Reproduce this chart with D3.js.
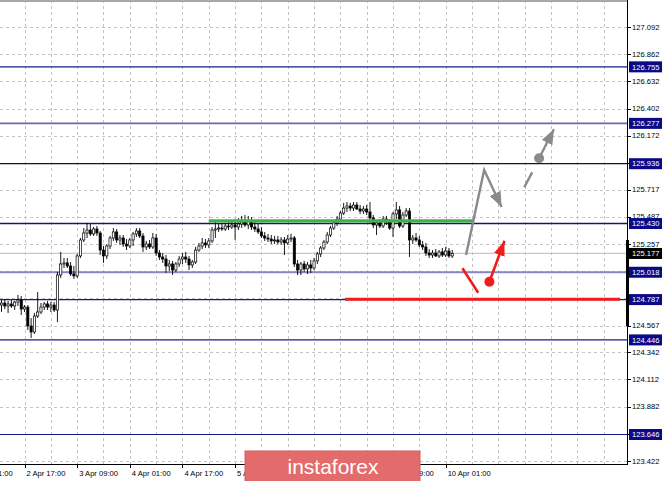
<!DOCTYPE html>
<html>
<head>
<meta charset="utf-8">
<script src="https://cdn.jsdelivr.net/npm/d3@7"></script>
<style>
  html, body { margin: 0; padding: 0; background: #ffffff; overflow: hidden; }
  svg { display: block; }
  text { font-family: "Liberation Sans", Arial, sans-serif; }
</style>
</head>
<body>
<svg id="chart" width="665" height="481"></svg>
<script>
// ---------- DATA ----------
// H1 candles [open, high, low, close], 2 Apr 10:00 .. 10 Apr 03:00
const candles = [
  [124.741,124.783,124.682,124.758],[124.758,124.792,124.707,124.733],[124.733,124.775,124.673,124.750],
  [124.750,124.783,124.716,124.733],[124.733,124.775,124.699,124.766],[124.766,124.826,124.733,124.783],
  [124.783,124.817,124.657,124.707],[124.707,124.741,124.682,124.724],[124.724,124.741,124.530,124.564],
  [124.564,124.631,124.462,124.513],[124.513,124.673,124.496,124.648],[124.648,124.851,124.631,124.682],
  [124.682,124.758,124.665,124.724],[124.724,124.766,124.699,124.750],[124.750,124.775,124.699,124.724],
  [124.724,124.766,124.682,124.741],[124.741,124.766,124.682,124.699],[124.699,125.021,124.597,124.995],
  [124.995,125.190,124.970,125.088],[125.088,125.139,125.054,125.097],[125.097,125.139,125.054,125.071],
  [125.071,125.105,124.987,125.004],[125.004,125.071,124.961,124.987],[124.987,125.173,124.970,125.156],
  [125.156,125.308,125.139,125.291],[125.291,125.392,125.274,125.350],[125.350,125.435,125.308,125.375],
  [125.375,125.426,125.325,125.342],[125.342,125.401,125.325,125.384],[125.384,125.409,125.325,125.350],
  [125.350,125.367,125.164,125.206],[125.206,125.240,125.097,125.156],[125.156,125.257,125.130,125.240],
  [125.240,125.325,125.215,125.308],[125.308,125.392,125.283,125.359],[125.359,125.384,125.266,125.291],
  [125.291,125.333,125.249,125.308],[125.308,125.333,125.232,125.257],[125.257,125.299,125.206,125.240],
  [125.240,125.308,125.223,125.291],[125.291,125.359,125.240,125.342],[125.342,125.392,125.316,125.367],
  [125.367,125.392,125.308,125.325],[125.325,125.350,125.190,125.232],[125.232,125.283,125.206,125.257],
  [125.257,125.291,125.215,125.232],[125.232,125.350,125.215,125.308],[125.308,125.342,125.156,125.181],
  [125.181,125.206,125.122,125.147],[125.147,125.181,125.097,125.130],[125.130,125.164,125.012,125.071],
  [125.071,125.122,125.029,125.088],[125.088,125.114,124.995,125.037],[125.037,125.105,125.021,125.088],
  [125.088,125.156,125.063,125.130],[125.130,125.181,125.088,125.147],[125.147,125.190,125.097,125.130],
  [125.130,125.156,125.037,125.080],[125.080,125.122,125.054,125.105],[125.105,125.232,125.088,125.206],
  [125.206,125.266,125.190,125.240],[125.240,125.308,125.215,125.266],[125.266,125.299,125.223,125.249],
  [125.249,125.308,125.223,125.283],[125.283,125.401,125.266,125.375],[125.375,125.452,125.308,125.384],
  [125.384,125.426,125.359,125.392],[125.392,125.435,125.367,125.384],[125.384,125.435,125.367,125.409],
  [125.409,125.452,125.375,125.401],[125.401,125.452,125.384,125.418],[125.418,125.468,125.291,125.401],
  [125.401,125.477,125.375,125.426],[125.426,125.494,125.392,125.443],[125.443,125.502,125.401,125.418],
  [125.418,125.494,125.384,125.452],[125.452,125.485,125.375,125.401],[125.401,125.452,125.359,125.384],
  [125.384,125.426,125.342,125.359],[125.359,125.401,125.308,125.325],[125.325,125.359,125.283,125.308],
  [125.308,125.342,125.274,125.299],[125.299,125.333,125.257,125.283],[125.283,125.325,125.257,125.291],
  [125.291,125.325,125.257,125.274],[125.274,125.316,125.249,125.291],[125.291,125.316,125.164,125.266],
  [125.266,125.333,125.249,125.299],[125.299,125.342,125.274,125.308],[125.308,125.325,125.063,125.088],
  [125.088,125.122,124.995,125.037],[125.037,125.105,124.995,125.088],[125.088,125.114,125.021,125.046],
  [125.046,125.105,125.004,125.080],[125.080,125.122,125.012,125.054],[125.054,125.139,125.037,125.114],
  [125.114,125.190,125.088,125.173],[125.173,125.240,125.147,125.223],[125.223,125.291,125.206,125.274],
  [125.274,125.359,125.257,125.333],[125.333,125.409,125.316,125.392],[125.392,125.460,125.375,125.435],
  [125.435,125.494,125.409,125.468],[125.468,125.536,125.452,125.519],[125.519,125.604,125.502,125.561],
  [125.561,125.612,125.528,125.578],[125.578,125.604,125.536,125.561],[125.561,125.612,125.536,125.587],
  [125.587,125.612,125.545,125.553],[125.553,125.587,125.511,125.536],[125.536,125.578,125.511,125.553],
  [125.553,125.587,125.502,125.528],[125.528,125.612,125.435,125.477],[125.477,125.502,125.392,125.418],
  [125.418,125.460,125.333,125.435],[125.435,125.468,125.392,125.409],[125.409,125.494,125.392,125.468],
  [125.468,125.494,125.418,125.443],[125.443,125.468,125.375,125.392],[125.392,125.528,125.316,125.511],
  [125.511,125.612,125.468,125.545],[125.545,125.578,125.392,125.409],[125.409,125.528,125.392,125.502],
  [125.502,125.561,125.485,125.536],[125.536,125.561,125.147,125.291],[125.291,125.333,125.257,125.308],
  [125.308,125.350,125.274,125.291],[125.291,125.325,125.232,125.249],[125.249,125.283,125.206,125.232],
  [125.232,125.266,125.156,125.181],[125.181,125.215,125.139,125.164],[125.164,125.206,125.139,125.181],
  [125.181,125.215,125.147,125.156],[125.156,125.206,125.139,125.190],[125.190,125.223,125.147,125.164],
  [125.164,125.232,125.147,125.198],[125.198,125.223,125.139,125.156],[125.156,125.206,125.139,125.177]
];

const priceTicks = [127.092,126.862,126.632,126.402,126.172,125.942,125.717,125.487,125.257,
                    125.027,124.797,124.567,124.342,124.112,123.882,123.652,123.422];
const levels = [126.755,126.277,125.936,125.430,125.018,124.787,124.446,123.646];
const bidPrice = 125.177;

const timeLabelBars = [-9,7,23,39,55,71,87,103,119,135];
const timeLabels = ["2 Apr 01:00","2 Apr 17:00","3 Apr 09:00","4 Apr 01:00","4 Apr 17:00",
                    "5 Apr 09:00","8 Apr 01:00","8 Apr 17:00","9 Apr 09:00","10 Apr 01:00"];
const gridBars = d3.range(-1, 190, 8);

// annotations: [barIndex, price]
const greenSegment = [[63.0,125.452],[143.3,125.452]];
const redSegment   = [[104.4,124.790],[188.0,124.790]];
const grayPath     = [[141.2,125.164],[146.7,125.883],[152.0,125.570]];
const grayDash     = [[158.9,125.737],[161.3,125.863]];
const grayArrow    = [[163.4,125.982],[167.9,126.227]];
const redLine      = [[140.1,125.052],[144.9,124.845]];
const redArrow     = [[148.3,124.938],[152.9,125.285]];

// ---------- SCALES ----------
const svg = d3.select("#chart");
const plotRight = 627, plotBottom = 464;
const y = d3.scaleLinear().domain([123.422, 127.092]).range([461, 27]);
const x = d3.scaleLinear().domain([0, 137]).range([1.5, 1.5 + 3.29 * 137]);

const defs = svg.append("defs");
function marker(id, color, len, wid) {
  defs.append("marker").attr("id", id)
    .attr("markerUnits", "userSpaceOnUse")
    .attr("viewBox", `0 0 ${len} ${wid}`)
    .attr("refX", len).attr("refY", wid / 2)
    .attr("markerWidth", len).attr("markerHeight", wid)
    .attr("orient", "auto")
    .append("path").attr("d", `M0,0L${len},${wid/2}L0,${wid}Z`).attr("fill", color);
}
marker("arrGray", "#8a8a8a", 15, 12);
marker("arrRed", "#f01c1c", 15, 11);

const clip = defs.append("clipPath").attr("id", "plotClip");
clip.append("rect").attr("x", 0).attr("y", 0).attr("width", plotRight).attr("height", plotBottom);

// ---------- GRID ----------
const grid = svg.append("g").attr("clip-path", "url(#plotClip)");
grid.selectAll(".hg").data(priceTicks).join("line")
  .attr("x1", 0).attr("x2", plotRight)
  .attr("y1", d => Math.round(y(d)) + 0.5).attr("y2", d => Math.round(y(d)) + 0.5)
  .attr("stroke", "#c4c4c4").attr("stroke-dasharray", "3,3");
grid.selectAll(".vg").data(gridBars).join("line")
  .attr("x1", d => Math.round(x(d)) + 0.5).attr("x2", d => Math.round(x(d)) + 0.5)
  .attr("y1", 0).attr("y2", plotBottom)
  .attr("stroke", "#c4c4c4").attr("stroke-dasharray", "3,3");

// bid line
grid.append("line").attr("x1", 0).attr("x2", plotRight)
  .attr("y1", y(bidPrice)).attr("y2", y(bidPrice))
  .attr("stroke", "#c8c8c8").attr("stroke-width", 1.2);

// level lines
const levelColors = ["#1a1a8c","#6a6ab8","#101040","#14147a","#8686c8","#1a1a8c","#1a1a8c","#1a1a8c"];
const levelWidths = [1.2,1.8,1.2,1.6,2,1.2,1.2,1.2];
grid.selectAll(".lvl").data(levels).join("line")
  .attr("x1", 0).attr("x2", plotRight)
  .attr("y1", d => y(d)).attr("y2", d => y(d))
  .attr("stroke", (d, i) => levelColors[i]).attr("stroke-width", (d, i) => levelWidths[i]);

// ---------- CANDLES ----------
const cg = svg.append("g").attr("clip-path", "url(#plotClip)");
const bw = 2.2;
cg.selectAll(".wick").data(candles).join("line")
  .attr("x1", (d, i) => x(i)).attr("x2", (d, i) => x(i))
  .attr("y1", d => y(d[1])).attr("y2", d => y(d[2]))
  .attr("stroke", "#000").attr("stroke-width", 0.9);
cg.selectAll(".body").data(candles).join("rect")
  .attr("x", (d, i) => x(i) - bw / 2)
  .attr("y", d => y(Math.max(d[0], d[3])))
  .attr("width", bw)
  .attr("height", d => Math.max(0.8, Math.abs(y(d[0]) - y(d[3]))))
  .attr("fill", d => d[3] >= d[0] ? "#ffffff" : "#000000")
  .attr("stroke", "#000").attr("stroke-width", 0.7);

// ---------- ANNOTATIONS ----------
const line = d3.line().x(d => x(d[0])).y(d => y(d[1]));
const ag = svg.append("g");
ag.append("path").attr("d", line(greenSegment)).attr("stroke", "#3cb44a").attr("stroke-width", 3.2).attr("fill", "none");
ag.append("path").attr("d", line(redSegment)).attr("stroke", "#f21c1c").attr("stroke-width", 3).attr("fill", "none");
ag.append("path").attr("d", line(grayPath)).attr("stroke", "#8a8a8a").attr("stroke-width", 2.4)
  .attr("fill", "none").attr("stroke-linejoin", "miter").attr("marker-end", "url(#arrGray)");
ag.append("path").attr("d", line(grayDash)).attr("stroke", "#8a8a8a").attr("stroke-width", 2.4).attr("fill", "none");
ag.append("path").attr("d", line(grayArrow)).attr("stroke", "#8a8a8a").attr("stroke-width", 2.4)
  .attr("fill", "none").attr("marker-end", "url(#arrGray)");
ag.append("circle").attr("cx", x(grayArrow[0][0])).attr("cy", y(grayArrow[0][1])).attr("r", 5).attr("fill", "#8a8a8a");
ag.append("path").attr("d", line(redLine)).attr("stroke", "#f01c1c").attr("stroke-width", 2.6).attr("fill", "none");
ag.append("path").attr("d", line(redArrow)).attr("stroke", "#f01c1c").attr("stroke-width", 2.6)
  .attr("fill", "none").attr("marker-end", "url(#arrRed)");
ag.append("circle").attr("cx", x(redArrow[0][0])).attr("cy", y(redArrow[0][1])).attr("r", 5).attr("fill", "#f01c1c");

// ---------- FRAME ----------
svg.append("line").attr("x1", 0).attr("x2", plotRight).attr("y1", 1).attr("y2", 1)
  .attr("stroke", "#a8a8a8").attr("stroke-width", 2);
svg.append("line").attr("x1", plotRight + 0.5).attr("x2", plotRight + 0.5).attr("y1", 0).attr("y2", plotBottom)
  .attr("stroke", "#000").attr("stroke-width", 1);
svg.append("line").attr("x1", 0).attr("x2", plotRight + 1).attr("y1", plotBottom + 0.5).attr("y2", plotBottom + 0.5)
  .attr("stroke", "#000").attr("stroke-width", 1);
svg.append("rect").attr("x", plotRight - 1).attr("y", 240).attr("width", 3).attr("height", 86).attr("fill", "#000");

// ---------- PRICE AXIS ----------
const pa = svg.append("g");
pa.selectAll(".pt").data(priceTicks).join("line")
  .attr("x1", plotRight).attr("x2", plotRight + 4)
  .attr("y1", d => Math.round(y(d)) + 0.5).attr("y2", d => Math.round(y(d)) + 0.5)
  .attr("stroke", "#000");
pa.selectAll(".ptl").data(priceTicks).join("text")
  .attr("x", 632).attr("y", d => y(d)).attr("dy", "0.35em")
  .attr("font-size", "7.6px").attr("fill", "#000")
  .text(d => d.toFixed(3));

// level labels
const lbl = svg.append("g");
lbl.selectAll("rect").data(levels).join("rect")
  .attr("x", 629).attr("y", d => y(d) - 5.5).attr("width", 33).attr("height", 11)
  .attr("fill", "#0a0a86");
lbl.selectAll("text").data(levels).join("text")
  .attr("x", 632).attr("y", d => y(d)).attr("dy", "0.35em")
  .attr("font-size", "7.6px").attr("fill", "#fff")
  .text(d => d.toFixed(3));
lbl.append("rect").attr("x", 629).attr("y", y(bidPrice) - 5.5).attr("width", 33).attr("height", 11).attr("fill", "#000");
lbl.append("text").attr("x", 632).attr("y", y(bidPrice)).attr("dy", "0.35em")
  .attr("font-size", "7.6px").attr("fill", "#fff").text(bidPrice.toFixed(3));

// ---------- TIME AXIS ----------
const ta = svg.append("g");
ta.selectAll("line").data(timeLabelBars).join("line")
  .attr("x1", d => Math.round(x(d)) + 0.5).attr("x2", d => Math.round(x(d)) + 0.5)
  .attr("y1", plotBottom).attr("y2", plotBottom + 4).attr("stroke", "#000");
ta.selectAll("text").data(timeLabelBars).join("text")
  .attr("x", d => x(d) + 2).attr("y", 476)
  .attr("font-size", "7.6px").attr("fill", "#000")
  .text((d, i) => timeLabels[i]);

// ---------- LOGO ----------
const logo = svg.append("g");
logo.append("rect").attr("x", 245).attr("y", 451).attr("width", 175).attr("height", 34)
  .attr("fill", "#e46b6b").attr("stroke", "#d65c5c").attr("stroke-width", 1);
logo.append("text").attr("x", 333).attr("y", 474).attr("text-anchor", "middle")
  .attr("font-family", "'Open Sans', 'Noto Sans', sans-serif").attr("font-size", "21px")
  .attr("fill", "#ffffff").text("instaforex");
</script>
</body>
</html>
